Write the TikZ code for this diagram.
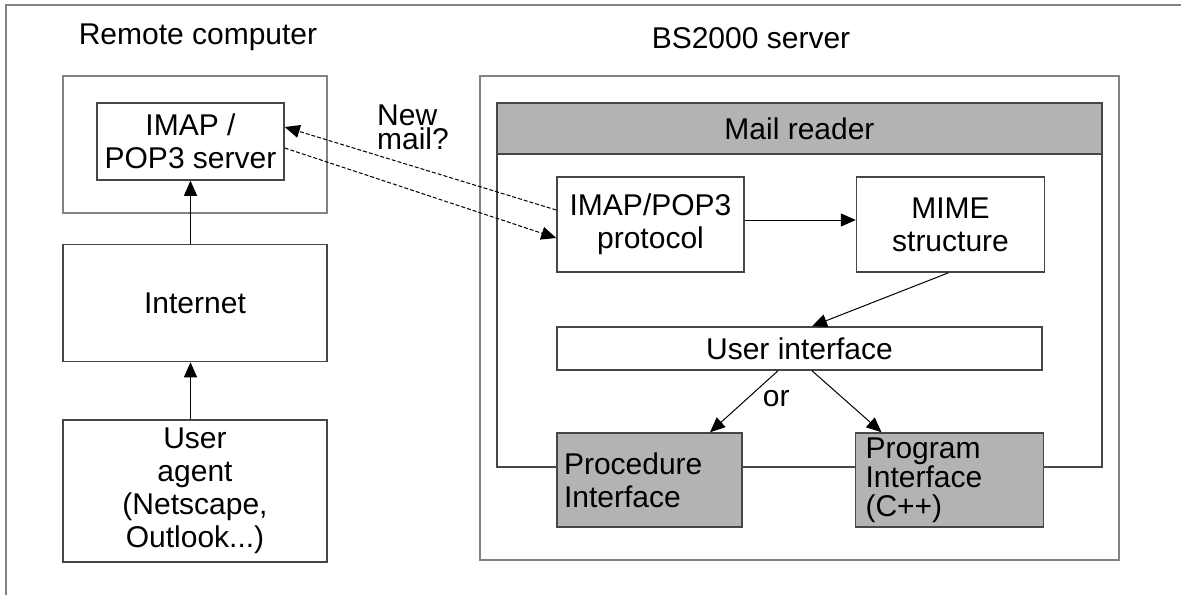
\documentclass[tikz,border=0pt]{standalone}
\usepackage{fontspec}
\setmainfont{Liberation Sans}
\usetikzlibrary{arrows.meta, positioning}
\definecolor{boxline}{RGB}{70,70,70}
\definecolor{frameline}{RGB}{130,130,130}
\definecolor{boxgray}{RGB}{179,179,179}

\begin{document}
\begin{tikzpicture}[
    x=0.5pt, y=-0.5pt,
    font=\fontsize{15}{16.5}\selectfont,
    % plain white boxes
    box/.style={
        rectangle, draw=boxline, fill=white,
        inner sep=0pt, align=center,
        line width=0.75pt
    },
    % shaded boxes of the mail reader
    graybox/.style={box, fill=boxgray},
    % machine containers - lighter outline
    outerbox/.style={box, draw=frameline},
    arrow/.style={-{Triangle[length=7.5pt, width=6.5pt]}, line width=0.5pt},
    dasharrow/.style={arrow, dash pattern=on 2pt off 1pt},
    note/.style={inner sep=0pt},
]

% page frame, open at right and bottom
\useasboundingbox (0,0) rectangle (1181,595);
\draw[frameline, line width=1pt] (1181,5) -- (6,5) -- (6,595);

% Remote computer - left column
\node[note] (remotetitle) at (198,37) {Remote computer};
\node[outerbox, minimum width=132pt, minimum height=68.5pt] (remote) at (195,144.5) {};
\node[box, minimum width=93.5pt, minimum height=38.5pt] (imapsrv) at (190.5,141.5) {IMAP /\\POP3 server};
\node[box, minimum width=132pt, minimum height=58.5pt, below=15pt of remote] (internet) {Internet};
\node[box, minimum width=132pt, minimum height=71pt, below=28.5pt of internet] (agent) {User\\agent\\(Netscape,\\Outlook...)};

% BS2000 server - right block
\node[note] (bstitle) at (751,38) {BS2000 server};
\node[outerbox, minimum width=319.5pt, minimum height=242pt] (bs) at (799.5,318) {};
\node[box, minimum width=302.5pt, minimum height=182pt] (mail) at (799.5,285) {};
\node[graybox, minimum width=302.5pt, minimum height=25.5pt, anchor=north] (mailhead) at (mail.north) {Mail reader};
\node[box, minimum width=93.5pt, minimum height=47.5pt] (proto) at (650.5,224.5) {IMAP/POP3\\protocol};
\node[box, minimum width=94pt, minimum height=47.5pt, right=55.5pt of proto] (mime) {MIME\\structure};
\node[box, minimum width=242.5pt, minimum height=21.5pt] (ui) at (799.5,348.5) {User interface};

% interfaces sit on the lower edge of the mail reader
\node[graybox, text width=85.5pt, inner xsep=3.5pt, minimum height=47pt, align=left] (proc) at (649.5,480) {Procedure\\Interface};
\node[graybox, text width=84pt, inner xsep=5pt, minimum height=47pt, align=left,
      font=\fontsize{15}{14.5}\selectfont, right=56pt of proc] (prog) {Program\\Interface\\(C++)};

% Arrows
\draw[arrow] (agent.north -| imapsrv.south) -- (internet.south -| imapsrv.south);
\draw[arrow] (internet.north -| imapsrv.south) -- (imapsrv.south);
\draw[dasharrow] ([yshift=7.25pt]proto.west) -- ([yshift=7.25pt]imapsrv.east);
\draw[dasharrow] ([yshift=-3.25pt]imapsrv.east) -- ([yshift=-6.75pt]proto.west);
\node[note, align=left, font=\fontsize{15}{12}\selectfont] (newmail) at (413,127) {New\\mail?};

\draw[arrow] ([yshift=2.25pt]proto.east) -- ([yshift=2.25pt]mime.west);
\draw[arrow] ([xshift=-1pt]mime.south) -- ([xshift=6.25pt]ui.north);
\draw[arrow] ([xshift=-10.75pt]ui.south) -- ([xshift=30.25pt]proc.north)
    node[pos=0.45, right=7.5pt, note] {or};
\draw[arrow] ([xshift=6.25pt]ui.south) -- ([xshift=-34pt]prog.north);

\end{tikzpicture}
\end{document}
